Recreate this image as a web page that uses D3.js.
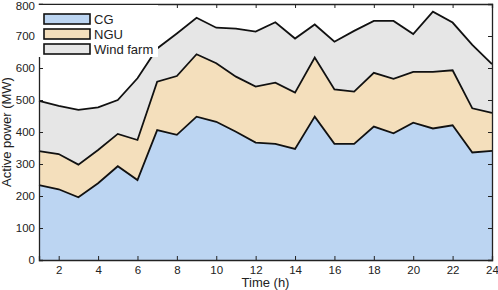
<!DOCTYPE html>
<html><head><meta charset="utf-8">
<script src="https://cdn.jsdelivr.net/npm/d3@7"></script>
<style>body{margin:0;background:#fff}svg{display:block}text{font-family:Arial,"Liberation Sans",sans-serif;fill:#222}</style>
</head><body><svg id="c" width="498" height="290"></svg>
<script>
const hours = d3.range(1, 25);
const seriesNames = ["CG", "NGU", "Wind farm"];
const cg   = [234,221,196,240,293,250,406,391,448,432,401,367,363,347,448,363,363,417,396,429,411,421,336,341];
const ngu  = [106,110,102,104,101,125,151,184,195,183,172,175,191,176,185,170,163,168,170,159,177,172,138,119];
const wind = [157,151,171,133,106,193,104,133,114,111,150,172,189,169,103,149,190,162,181,118,188,149,198,152];
const xTicks = [2,4,6,8,10,12,14,16,18,20,22,24];
const yTicks = [0,100,200,300,400,500,600,700,800];
const colors = ["#bcd5f2", "#f4dfbc", "#e6e6e6"];

const rows = hours.map((h,i)=>({h, "CG":cg[i], "NGU":ngu[i], "Wind farm":wind[i]}));
const stack = d3.stack().keys(seriesNames)(rows);

const L=39, R=492, T=4, B=260;
const x = d3.scaleLinear().domain([1,24]).range([L,R]);
const y = d3.scaleLinear().domain([0,800]).range([B,T]);
const svg = d3.select("#c");

const area = d3.area().x(d=>x(d.data.h)).y0(d=>y(d[0])).y1(d=>y(d[1]));
const line = d3.line().x(d=>x(d.data.h)).y(d=>y(d[1]));
svg.selectAll("path.a").data(stack).join("path").attr("class","a")
  .attr("d", area).attr("fill",(d,i)=>colors[i]).attr("stroke","none");
svg.selectAll("path.l").data(stack).join("path").attr("class","l")
  .attr("d", line).attr("fill","none").attr("stroke","#111").attr("stroke-width",1.8).attr("stroke-linejoin","miter");

// axes
const ax = svg.append("g");
ax.append("g").attr("transform",`translate(0,${B})`)
  .call(d3.axisBottom(x).tickValues(xTicks).tickSize(-4).tickPadding(6).tickFormat(d3.format("d")));
ax.append("g").attr("transform",`translate(0,${T})`)
  .call(d3.axisTop(x).tickValues(xTicks).tickSize(-4).tickFormat(""));
const yl = ax.append("g").attr("transform",`translate(${L},0)`)
  .call(d3.axisLeft(y).tickValues(yTicks).tickSize(-4).tickPadding(4).tickFormat(d3.format("d")));
ax.append("g").attr("transform",`translate(${R},0)`)
  .call(d3.axisRight(y).tickValues(yTicks).tickSize(-4).tickFormat(""));
ax.selectAll(".domain").attr("stroke","#222").attr("stroke-width",1.3);
ax.selectAll(".tick line").attr("stroke","#222");
ax.selectAll(".tick text").attr("font-size",11.5).attr("fill","#222");
yl.selectAll(".tick text").filter(d=>d===800).attr("dy","0.5em");

// legend background
svg.append("rect").attr("x",36).attr("y",5).attr("width",122).attr("height",52).attr("fill","#fff");
const lg = svg.append("g");
seriesNames.forEach((n,i)=>{
  const yy = 14 + i*15;
  lg.append("rect").attr("x",44).attr("y",yy).attr("width",46).attr("height",10)
    .attr("fill",colors[i]).attr("stroke","#111").attr("stroke-width",1.6);
  lg.append("text").attr("x",94).attr("y",yy+5).attr("dy","0.36em").attr("font-size",13).text(n);
});

svg.append("text").attr("x",(L+R)/2).attr("y",287).attr("text-anchor","middle").attr("font-size",13).text("Time (h)");
svg.append("text").attr("transform",`translate(11,${(T+B)/2}) rotate(-90)`).attr("text-anchor","middle")
  .attr("font-size",13).text("Active power (MW)");
</script></body></html>
